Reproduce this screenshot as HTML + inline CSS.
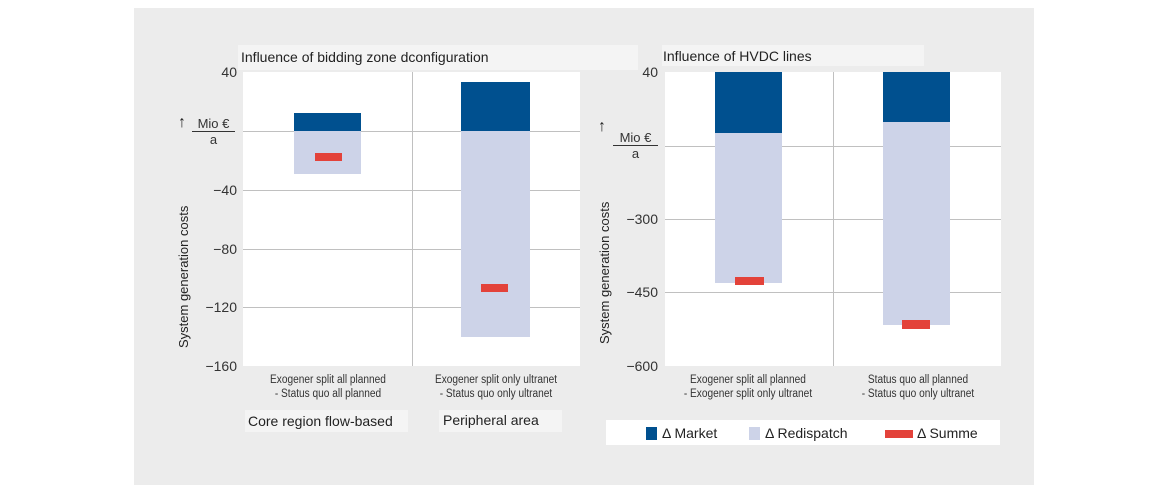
<!DOCTYPE html><html><head><style>
body{margin:0;width:1167px;height:492px;background:#fff;position:relative;font-family:"Liberation Sans",sans-serif;overflow:hidden}
div{position:absolute}
.bg{left:134px;top:8px;width:900px;height:477px;background:#ececec}
.pl{background:#fff}
.g{height:1px;background:#c0c0c0}
.v{width:1px;background:#c0c0c0}
.m{background:#00508f}.r{background:#cdd3e8}.s{background:#e3423a}
.t{font-size:14px;color:#222;white-space:nowrap}
.tk{font-size:14px;color:#333;text-align:right;width:50px}
.xl{font-size:11.5px;color:#333;text-align:center;line-height:14px;transform:scaleX(.88);white-space:nowrap}
.yl{font-size:13px;color:#222;transform:rotate(-90deg);transform-origin:left top;white-space:nowrap}
.mio{font-size:13px;color:#333;text-align:center;line-height:15px}
</style></head><body>
<div class="bg"></div>
<div style="left:238px;top:45px;width:400px;height:25px;background:#f4f4f4"></div>
<div class="t" style="left:241px;top:49px">Influence of bidding zone dconfiguration</div>
<div style="left:662px;top:45px;width:262px;height:21px;background:#f4f4f4"></div>
<div class="t" style="left:663px;top:48px">Influence of HVDC lines</div>
<!-- left plot -->
<div class="pl" style="left:243px;top:72px;width:337px;height:294px"></div>
<div class="g" style="left:243px;top:131px;width:337px"></div>
<div class="g" style="left:243px;top:190px;width:337px"></div>
<div class="g" style="left:243px;top:249px;width:337px"></div>
<div class="g" style="left:243px;top:307px;width:337px"></div>
<div class="v" style="left:412px;top:72px;height:294px"></div>
<div class="m" style="left:294px;top:113px;width:67px;height:18px"></div>
<div class="r" style="left:294px;top:131px;width:67px;height:43px"></div>
<div class="s" style="left:315px;top:153px;width:27px;height:8px"></div>
<div class="m" style="left:461px;top:82px;width:69px;height:49px"></div>
<div class="r" style="left:461px;top:131px;width:69px;height:206px"></div>
<div class="s" style="left:481px;top:284px;width:27px;height:8px"></div>
<div class="tk" style="left:187px;top:64px">40</div>
<div class="tk" style="left:187px;top:182px">−40</div>
<div class="tk" style="left:187px;top:241px">−80</div>
<div class="tk" style="left:187px;top:299px">−120</div>
<div class="tk" style="left:187px;top:358px">−160</div>
<div class="t" style="left:178px;top:114px;font-size:16px">↑</div>
<div class="mio" style="left:192px;top:116px;width:43px"><span style="display:block;border-bottom:1px solid #333">Mio €</span>a</div>
<div class="yl" style="left:176px;top:348px">System generation costs</div>
<div class="xl" style="left:258px;top:373px;width:140px">Exogener split all planned<br>- Status quo all planned</div>
<div class="xl" style="left:416px;top:373px;width:160px">Exogener split only ultranet<br>- Status quo only ultranet</div>
<div style="left:245px;top:410px;width:163px;height:22px;background:#f4f4f4"></div>
<div class="t" style="left:248px;top:413px">Core region flow-based</div>
<div style="left:439px;top:410px;width:123px;height:22px;background:#f4f4f4"></div>
<div class="t" style="left:443px;top:412px">Peripheral area</div>
<!-- right plot -->
<div class="pl" style="left:665px;top:72px;width:336px;height:294px"></div>
<div class="g" style="left:665px;top:146px;width:336px"></div>
<div class="g" style="left:665px;top:219px;width:336px"></div>
<div class="g" style="left:665px;top:292px;width:336px"></div>
<div class="v" style="left:833px;top:72px;height:294px"></div>
<div class="m" style="left:715px;top:72px;width:67px;height:61px"></div>
<div class="r" style="left:715px;top:133px;width:67px;height:150px"></div>
<div class="s" style="left:735px;top:277px;width:29px;height:8px"></div>
<div class="m" style="left:883px;top:72px;width:67px;height:50px"></div>
<div class="r" style="left:883px;top:122px;width:67px;height:203px"></div>
<div class="s" style="left:902px;top:320px;width:28px;height:9px"></div>
<div class="tk" style="left:608px;top:64px">40</div>
<div class="tk" style="left:608px;top:211px">−300</div>
<div class="tk" style="left:608px;top:284px">−450</div>
<div class="tk" style="left:608px;top:358px">−600</div>
<div class="t" style="left:598px;top:118px;font-size:16px">↑</div>
<div class="mio" style="left:613px;top:130px;width:45px"><span style="display:block;border-bottom:1px solid #333">Mio €</span>a</div>
<div class="yl" style="left:597px;top:344px">System generation costs</div>
<div class="xl" style="left:668px;top:373px;width:160px">Exogener split all planned<br>- Exogener split only ultranet</div>
<div class="xl" style="left:838px;top:373px;width:160px">Status quo all planned<br>- Status quo only ultranet</div>
<div style="left:606px;top:420px;width:394px;height:25px;background:#fff"></div>
<div class="m" style="left:646px;top:427px;width:11px;height:13px"></div>
<div class="t" style="left:662px;top:425px">Δ Market</div>
<div class="r" style="left:749px;top:427px;width:11px;height:13px"></div>
<div class="t" style="left:765px;top:425px">Δ Redispatch</div>
<div class="s" style="left:885px;top:430px;width:28px;height:8px"></div>
<div class="t" style="left:917px;top:425px">Δ Summe</div>
</body></html>
